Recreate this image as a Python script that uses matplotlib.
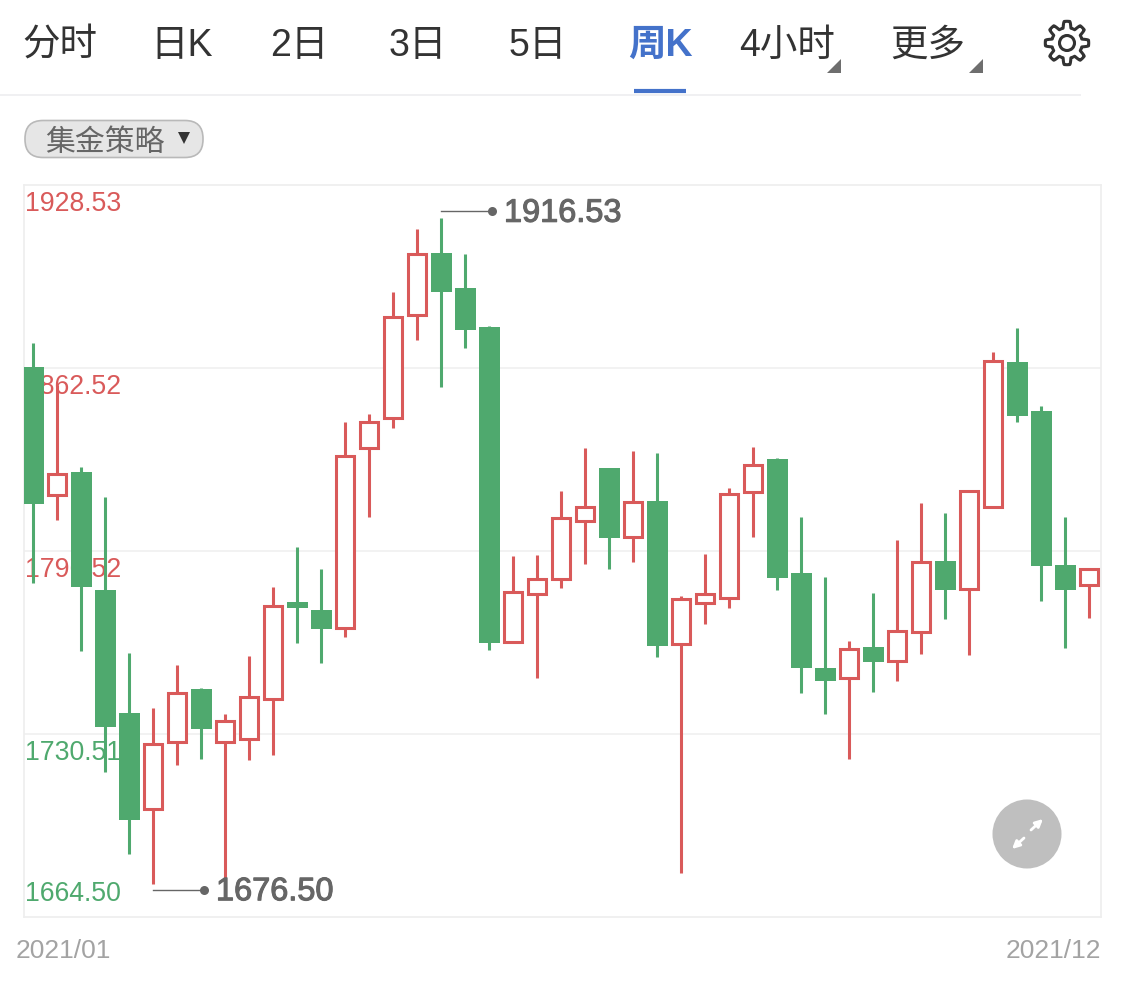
import numpy as np
import matplotlib
matplotlib.use('Agg')
import matplotlib.pyplot as plt
import matplotlib.patheffects as pe
from matplotlib.patches import Circle, FancyBboxPatch, Polygon

plt.rcParams['font.family'] = ['Liberation Sans', 'Noto Sans CJK SC']

# weekly candles, 2021/01 - 2021/12
highs = [1871.54, 1856.39, 1826.81, 1815.99, 1759.72, 1739.88, 1755.39, 1747.10, 1737.72, 1758.64,
         1783.53, 1797.96, 1790.02, 1843.04, 1845.93, 1889.94, 1912.66, 1916.53, 1903.64, 1877.85,
         1794.71, 1795.07, 1818.16, 1833.67, 1826.45, 1832.58, 1831.86, 1780.28, 1795.43, 1819.24,
         1834.03, 1830.06, 1808.78, 1787.14, 1764.05, 1781.36, 1800.48, 1813.83, 1810.22, 1818.16,
         1868.29, 1876.95, 1848.82, 1808.78, 1790.02]
lows = [1784.97, 1807.70, 1760.44, 1716.80, 1687.22, 1676.50, 1719.32, 1721.49, 1677.84, 1721.13,
        1722.93, 1763.33, 1756.12, 1765.49, 1808.78, 1840.88, 1872.62, 1855.67, 1869.74, 1760.80,
        1763.69, 1750.71, 1783.17, 1791.83, 1790.02, 1792.55, 1758.28, 1680.37, 1770.18, 1775.95,
        1801.56, 1782.45, 1745.29, 1737.72, 1721.49, 1745.66, 1749.62, 1759.36, 1771.99, 1759.00,
        1812.39, 1843.04, 1778.48, 1761.53, 1772.35]
opens = [1862.88, 1816.71, 1825.01, 1782.45, 1738.08, 1703.45, 1727.62, 1746.56, 1727.62, 1728.70,
         1743.13, 1778.12, 1775.23, 1768.74, 1833.67, 1844.49, 1881.64, 1904.00, 1891.38, 1877.49,
         1763.69, 1781.00, 1786.41, 1807.34, 1826.45, 1801.56, 1814.55, 1762.97, 1777.76, 1779.56,
         1817.80, 1829.70, 1788.58, 1754.31, 1750.71, 1761.89, 1756.84, 1767.30, 1792.91, 1782.81,
         1812.39, 1864.69, 1847.01, 1791.46, 1784.25]
closes = [1813.47, 1824.29, 1783.53, 1733.03, 1699.49, 1726.90, 1745.29, 1732.31, 1735.20, 1743.85,
          1776.68, 1775.95, 1768.38, 1830.78, 1843.04, 1880.92, 1903.64, 1889.94, 1876.23, 1763.33,
          1781.73, 1786.41, 1808.42, 1812.39, 1801.20, 1814.19, 1762.25, 1779.20, 1781.00, 1817.07,
          1827.53, 1786.78, 1754.31, 1749.62, 1761.17, 1756.48, 1767.66, 1792.55, 1782.45, 1818.16,
          1865.05, 1845.21, 1791.10, 1782.45, 1790.02]

y_ticks = ['1928.53', '1862.52', '1796.52', '1730.51', '1664.50']
grid_prices = [1862.52, 1796.52, 1730.51]
date_labels = ['2021/01', '2021/12']
tabs = ['分时', '日K', '2日', '3日', '5日', '周K', '4小时', '更多']
tab_x = [60, 182, 299, 418, 538, 660, 787, 928]
strategy = '集金策略'

RED = '#d95a5a'
GREEN = '#4fa96e'
BLUE = '#4472ca'
W, H = 1125, 982

fig = plt.figure(figsize=(W / 100, H / 100), dpi=100, facecolor='white')

# page layer in pixel coordinates, sits under the candles
bg = fig.add_axes([0, 0, 1, 1], zorder=0)
bg.set_xlim(0, W)
bg.set_ylim(H, 0)
bg.axis('off')

for name, x in zip(tabs, tab_x):
    on = name == '周K'
    bg.text(x, 46, name, ha='center', va='center', fontsize=27,
            color=BLUE if on else '#333333', fontweight='bold' if on else 'normal')
bg.plot([0, 1080], [94.5, 94.5], color='#f0f0f2', lw=1.4)
bg.plot([634, 686], [91, 91], color=BLUE, lw=3, solid_capstyle='butt')
for x in (827, 969):
    bg.add_patch(Polygon([[x, 73], [x + 14, 73], [x + 14, 59]], color='#6e6e6e', lw=0))

# gear icon
ang = np.linspace(0, 2 * np.pi, 241)
rad = 18.5 + 3.2 * np.clip(2.2 * np.cos(8 * ang), -1, 1)
bg.add_patch(Polygon(np.c_[1067 + rad * np.cos(ang), 43 + rad * np.sin(ang)], closed=True,
                     fill=False, ec='#333333', lw=2.2, joinstyle='round'))
bg.add_patch(Circle((1067, 43), 7.5, fill=False, ec='#333333', lw=2.2))

# strategy pill
bg.add_patch(FancyBboxPatch((25, 120.5), 178, 37, boxstyle='round,pad=0,rounding_size=18',
                            fc='#e6e6e6', ec='#b9b9b9', lw=1.2))
bg.text(105, 143, strategy, ha='center', va='center', fontsize=21.5, color='#666666')
bg.plot([184], [138], marker='v', ms=9, color='#333333', mew=0)

# y labels are covered by the candles
colors = [RED, RED, RED, GREEN, GREEN]
for lab, y, c in zip(y_ticks, [204, 387, 570, 753, 894], colors):
    bg.text(25, y, lab, ha='left', va='center', fontsize=19.2, color=c)
bg.text(16, 951, date_labels[0], ha='left', va='center', fontsize=19, color='#a3a3a3')
bg.text(1101, 951, date_labels[1], ha='right', va='center', fontsize=19, color='#a3a3a3')

# candles
ax = fig.add_axes([24 / W, 1 - 917 / H, (1101 - 24) / W, (917 - 185) / H], zorder=1)
ax.patch.set_alpha(0)
ax.set_xlim(-0.375, 44.5)
ax.set_ylim(1664.50, 1928.53)
ax.set_xticks([])
ax.set_yticks([])
for s in ax.spines.values():
    s.set_color('#eeeeee')
    s.set_linewidth(1.2)
for p in grid_prices:
    ax.axhline(p, color='#f2f2f2', lw=1.4, zorder=0)

px = (1928.53 - 1664.50) / 732
x = np.arange(len(opens))
o = np.array(opens)
c = np.array(closes)
up = c >= o
ax.vlines(x, lows, highs, colors=[RED if u else GREEN for u in up], lw=2.2, zorder=2)
ax.bar(x[~up], (o - c)[~up], bottom=c[~up], width=0.875, color=GREEN, zorder=3)
ax.bar(x[up], (c - o)[up], bottom=o[up], width=0.77,
       facecolor='white', edgecolor=RED, lw=2.2, zorder=3)

# max / min markers
i_hi = int(np.argmax(highs))
i_lo = int(np.argmin(lows))
y_hi = highs[i_hi] + 7 * px
y_lo = lows[i_lo] - 6 * px
for i, y, v in [(i_hi, y_hi, highs[i_hi]), (i_lo, y_lo, lows[i_lo])]:
    ax.plot([i, i + 51 / 24], [y, y], color='#666666', lw=1, zorder=5)
    ax.plot([i + 51 / 24], [y], marker='o', ms=6.5, color='#666666', mew=0, zorder=5)
    ax.text(i + 63 / 24, y - 2.5 * px, '%.2f' % v, ha='left', va='center', fontsize=23.4,
            color='#666666', zorder=6,
            path_effects=[pe.withStroke(linewidth=0.8, foreground='#666666')])

# expand button
top = fig.add_axes([0, 0, 1, 1], zorder=2)
top.set_xlim(0, W)
top.set_ylim(H, 0)
top.axis('off')
top.add_patch(Circle((1027, 834), 34.5, color='#bfbfbf', lw=0))
top.annotate('', xy=(1043, 819), xytext=(1031, 830),
             arrowprops=dict(arrowstyle='-|>', color='white', lw=2, mutation_scale=11, shrinkA=0, shrinkB=0))
top.annotate('', xy=(1012, 849), xytext=(1024, 838),
             arrowprops=dict(arrowstyle='-|>', color='white', lw=2, mutation_scale=11, shrinkA=0, shrinkB=0))

fig.savefig('out.png', dpi=100)
